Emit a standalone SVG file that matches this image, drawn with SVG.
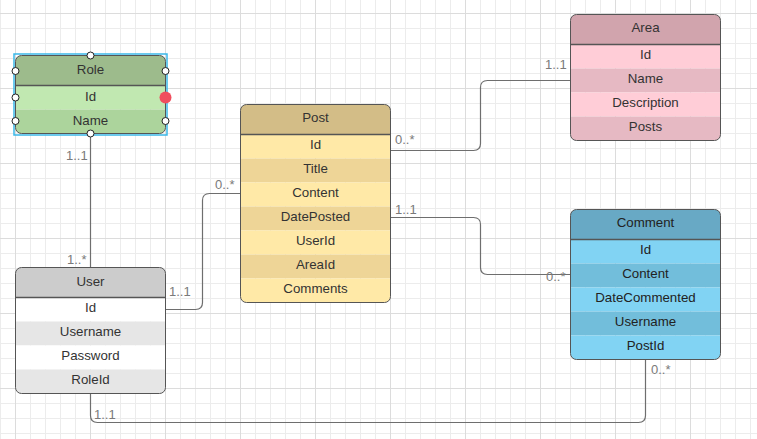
<svg xmlns="http://www.w3.org/2000/svg" width="757" height="439" viewBox="0 0 757 439">
<style>
.t{font-family:"Liberation Sans",Arial,sans-serif;font-size:13.3px;fill:#333;text-anchor:middle}
.l{font-family:"Liberation Sans",Arial,sans-serif;font-size:13px;fill:#7a7a7a}
.b{fill:none;stroke:#555;stroke-width:1}
.s{stroke:#555;stroke-width:1.5}
.c{fill:none;stroke:#6e6e6e;stroke-width:1.2}
.h{fill:#fff;stroke:#222;stroke-width:1}
</style>
<defs>
<pattern id="gm" width="15" height="15" patternUnits="userSpaceOnUse" x="0" y="13">
<path d="M0 0.5H15M0.5 0V15" stroke="#ececec" stroke-width="1" fill="none"/>
</pattern>
<pattern id="gM" width="75" height="75" patternUnits="userSpaceOnUse" x="15" y="13">
<path d="M0 0.5H75M0.5 0V75" stroke="#dcdcdc" stroke-width="1" fill="none"/>
</pattern>
<clipPath id="cRole"><rect x="0" y="0" width="150" height="78" rx="6"/></clipPath>
<clipPath id="cPost"><rect x="0" y="0" width="150" height="198" rx="6"/></clipPath>
<clipPath id="c126"><rect x="0" y="0" width="150" height="126" rx="6"/></clipPath>
<clipPath id="c150"><rect x="0" y="0" width="150" height="150" rx="6"/></clipPath>
</defs>
<rect width="757" height="439" fill="#fff"/>
<rect width="757" height="439" fill="url(#gm)"/>
<rect width="757" height="439" fill="url(#gM)"/>

<g id="connectors">
<path class="c" d="M90.5 134V267"/>
<path class="c" d="M165 309.5H195.5Q202.5 309.5 202.5 302.5V200.5Q202.5 193.5 209.5 193.5H240"/>
<path class="c" d="M390 150.5H473.5Q480.5 150.5 480.5 143.5V87.5Q480.5 80.5 487.5 80.5H570"/>
<path class="c" d="M390 217.5H473.5Q480.5 217.5 480.5 224.5V267.5Q480.5 274.5 487.5 274.5H570"/>
<path class="c" d="M90.5 393V415.5Q90.5 422.5 97.5 422.5H638.5Q645.5 422.5 645.5 415.5V359"/>
<text class="l" x="66" y="159.5">1..1</text>
<text class="l" x="67" y="264">1..*</text>
<text class="l" x="169" y="296">1..1</text>
<text class="l" x="215" y="189">0..*</text>
<text class="l" x="395" y="143.5">0..*</text>
<text class="l" x="545" y="68.5">1..1</text>
<text class="l" x="395" y="213.5">1..1</text>
<text class="l" x="546" y="281">0..*</text>
<text class="l" x="651" y="374">0..*</text>
<text class="l" x="94" y="418.5">1..1</text>
</g>

<g id="Role" transform="translate(15.5,55.5)">
<g clip-path="url(#cRole)">
<rect x="0" y="0" width="150" height="30" fill="#9dbb8c"/>
<rect x="0" y="30" width="150" height="24" fill="#c1e8b1"/>
<rect x="0" y="54" width="150" height="24" fill="#acd49c"/>
</g>
<line class="s" x1="0" y1="30" x2="150" y2="30"/>
<rect class="b" x="0" y="0" width="150" height="78" rx="6"/>
<text class="t" x="75" y="18.5">Role</text>
<text class="t" x="75" y="45">Id</text>
<text class="t" x="75" y="69">Name</text>
<rect x="-1.5" y="-1.5" width="153" height="81" fill="none" stroke="#3bb8e8" stroke-width="1.5"/>
<circle class="h" cx="75" cy="0" r="3.5"/>
<circle class="h" cx="0" cy="15.5" r="3.5"/>
<circle class="h" cx="0" cy="42" r="3.5"/>
<circle class="h" cx="0" cy="65.5" r="3.5"/>
<circle class="h" cx="150" cy="15.5" r="3.5"/>
<circle class="h" cx="150" cy="65.5" r="3.5"/>
<circle class="h" cx="75" cy="78" r="3.5"/>
<circle cx="150" cy="42" r="6" fill="#f04e5e"/>
</g>

<g id="Post" transform="translate(240.5,104.5)">
<g clip-path="url(#cPost)">
<rect x="0" y="0" width="150" height="30" fill="#d3bd87"/>
<rect x="0" y="30" width="150" height="24" fill="#ffe9a7"/>
<rect x="0" y="54" width="150" height="24" fill="#eed597"/>
<rect x="0" y="78" width="150" height="24" fill="#ffe9a7"/>
<rect x="0" y="102" width="150" height="24" fill="#eed597"/>
<rect x="0" y="126" width="150" height="24" fill="#ffe9a7"/>
<rect x="0" y="150" width="150" height="24" fill="#eed597"/>
<rect x="0" y="174" width="150" height="24" fill="#ffe9a7"/>
</g>
<line class="s" x1="0" y1="30" x2="150" y2="30"/>
<rect class="b" x="0" y="0" width="150" height="198" rx="6"/>
<text class="t" x="75" y="17.5">Post</text>
<text class="t" x="75" y="44.8">Id</text>
<text class="t" x="75" y="68.8">Title</text>
<text class="t" x="75" y="92.8">Content</text>
<text class="t" x="75" y="116.8">DatePosted</text>
<text class="t" x="75" y="140.8">UserId</text>
<text class="t" x="75" y="164.8">AreaId</text>
<text class="t" x="75" y="188.8">Comments</text>
</g>

<g id="Area" transform="translate(570.5,14.5)">
<g clip-path="url(#c126)">
<rect x="0" y="0" width="150" height="30" fill="#d1a4ad"/>
<rect x="0" y="30" width="150" height="24" fill="#ffcdd7"/>
<rect x="0" y="54" width="150" height="24" fill="#e6b9c3"/>
<rect x="0" y="78" width="150" height="24" fill="#ffcdd7"/>
<rect x="0" y="102" width="150" height="24" fill="#e6b9c3"/>
</g>
<line class="s" x1="0" y1="30" x2="150" y2="30"/>
<rect class="b" x="0" y="0" width="150" height="126" rx="6"/>
<text class="t" x="75" y="17.5">Area</text>
<text class="t" x="75" y="44.8">Id</text>
<text class="t" x="75" y="68.8">Name</text>
<text class="t" x="75" y="92.8">Description</text>
<text class="t" x="75" y="116.8">Posts</text>
</g>

<g id="Comment" transform="translate(570.5,209.5)">
<g clip-path="url(#c150)">
<rect x="0" y="0" width="150" height="30" fill="#68a9c5"/>
<rect x="0" y="30" width="150" height="24" fill="#81d3f3"/>
<rect x="0" y="54" width="150" height="24" fill="#72bedb"/>
<rect x="0" y="78" width="150" height="24" fill="#81d3f3"/>
<rect x="0" y="102" width="150" height="24" fill="#72bedb"/>
<rect x="0" y="126" width="150" height="24" fill="#81d3f3"/>
</g>
<line class="s" x1="0" y1="30" x2="150" y2="30"/>
<rect class="b" x="0" y="0" width="150" height="150" rx="6"/>
<text class="t" x="75" y="17.5" style="fill:#222">Comment</text>
<text class="t" x="75" y="44.8" style="fill:#222">Id</text>
<text class="t" x="75" y="68.8" style="fill:#222">Content</text>
<text class="t" x="75" y="92.8" style="fill:#222">DateCommented</text>
<text class="t" x="75" y="116.8" style="fill:#222">Username</text>
<text class="t" x="75" y="140.8" style="fill:#222">PostId</text>
</g>

<g id="User" transform="translate(15.5,267.5)">
<g clip-path="url(#c126)">
<rect x="0" y="0" width="150" height="30" fill="#cccccc"/>
<rect x="0" y="30" width="150" height="24" fill="#ffffff"/>
<rect x="0" y="54" width="150" height="24" fill="#e6e6e6"/>
<rect x="0" y="78" width="150" height="24" fill="#ffffff"/>
<rect x="0" y="102" width="150" height="24" fill="#e6e6e6"/>
</g>
<line class="s" x1="0" y1="30" x2="150" y2="30"/>
<rect class="b" x="0" y="0" width="150" height="126" rx="6"/>
<text class="t" x="75" y="18">User</text>
<text class="t" x="75" y="44.8">Id</text>
<text class="t" x="75" y="68.8">Username</text>
<text class="t" x="75" y="92.8">Password</text>
<text class="t" x="75" y="116.8">RoleId</text>
</g>
</svg>
